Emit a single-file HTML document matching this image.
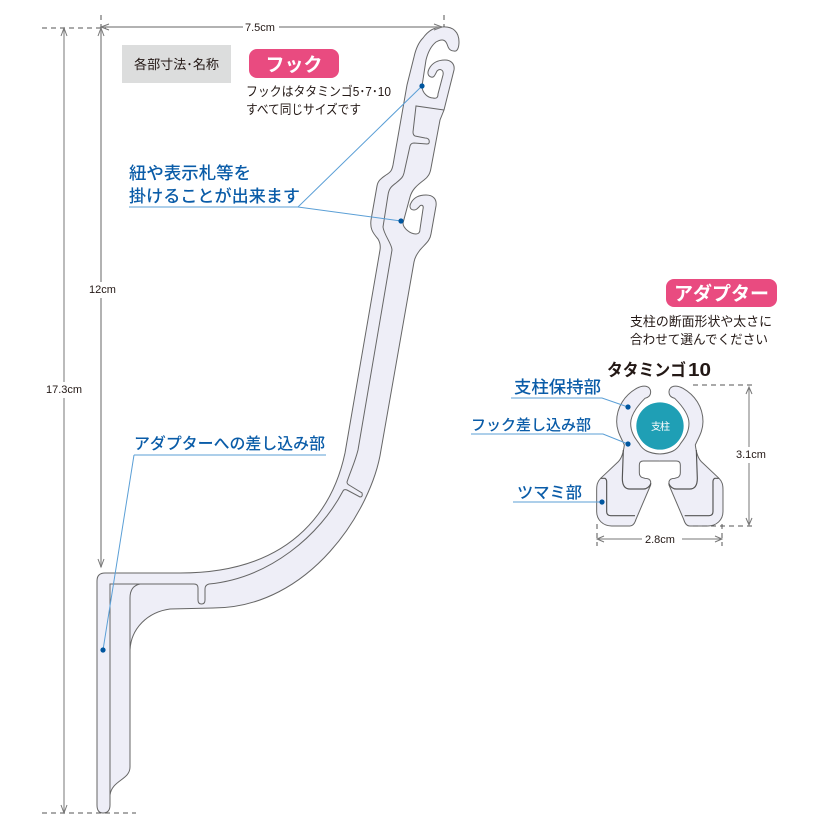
<!DOCTYPE html>
<html><head><meta charset="utf-8"><style>
html,body{margin:0;padding:0;background:#fff}
svg{display:block}
text{font-family:"Liberation Sans","Noto Sans CJK JP",sans-serif}
.b{fill:#0a5ca8;font-weight:500}
.k{fill:#231815}
.l{stroke:#5b9fd6;stroke-width:1;fill:none}
.d{fill:#00569f}
.g{stroke:#777;stroke-width:1;fill:none}
.g2{stroke:#999;stroke-width:1.5;fill:none}
.da{stroke:#555;stroke-width:1;fill:none;stroke-dasharray:5 4}
.o{stroke:#666;stroke-width:1;fill:none}
</style></head><body>
<svg width="830" height="830" viewBox="0 0 830 830" xmlns="http://www.w3.org/2000/svg">
<rect width="830" height="830" fill="#fff"/>

<!-- hanger body -->
<path d="M110 805 Q110 813 103 813 Q97 813 97 805 L97 581 Q97 573 105 573 L180 573 C300 573 335 500 345 453 L380 250 Q381 244 378 239 C372 232 370 228 371 220 L377 186 C378 180 382 178 386 175 C391 172 392 170 393 165 L407 85 L414 57 C416 48 419 42 423 38 C428 31 434 27 442 27 C453 26 459 32 459 42 C459 48 457 52 454 51 C449 51 448 47 447 44 C445 39 441 39 436 42 C431 46 428 52 426 60 L422 86 C422 93 428 98 433 98 C437 99 438 97 438 94 L443 75 C444 70 440 68 437 71 C435 75 434 78 431 77 C428 76 427 73 429 69 C432 63 438 60 445 60 C451 60 455 64 454 70 L444 110 L440 120 L431 168 C430 174 428 177 424 180 C416 186 412 190 410 197 L403 223 C403 228 410 234 416 234 C419 234 420 232 420 229 L423 209 C424 205 421 204 419 207 C417 209 416 210 414 210 C410 210 409 206 411 203 C414 197 420 195 426 195 C433 195 437 199 436 206 L431 234 C430 241 425 244 420 250 C417 254 415 257 414 262 L381 450 C372 510 310 608 213 608 L170 609 C148 612 131 628 130 650 L130 767 C130 780 112 780 110 795 Z" fill="#eeeef7" stroke="#666" stroke-width="1"/>
<path class="o" d="M110 795 L110 584 L194 584 Q198 584 198 588 L198 600 Q198 604 201.500 604 Q205 604 205 600 L205 589 Q205 585 209 584 C270 578 320 535 343 491 Q344 489 347 490 L360 497 Q363 497 362 493 L349 485 Q347 484 347 482 C351 470 355 462 358 450 L392 250 C392 244 384 235 383 227 L388 195 C389 188 392 186 396 183 C402 178 403 177 404 173 L410 146 Q411 143 414 143 L427 144 Q430 144 429 140 Q428 138 425 138 L415 136 Q413 135 413 132 L416 106 L444 110"/>
<path class="o" d="M130 650 L130 598 Q130 586 140 584 L194 584"/>

<!-- leaders -->
<path class="l" d="M129 207 H298 L422 86 M298 207 L401 221 M134 455 H326 M134 455 L103 650"/>
<circle class="d" cx="422" cy="86" r="2.6"/><circle class="d" cx="401" cy="221" r="2.6"/><circle class="d" cx="103" cy="650" r="2.6"/>

<!-- dims left -->
<path class="da" d="M42 28 H106 M42 813 H136 M101 15 V28 M444 15 V27"/>
<path class="g" d="M64 28 V813"/>
<path class="g2" d="M101 28 V567 M101 27 H442"/>
<path class="g" d="M61 36 L64 28 L67 36 M61 805 L64 813 L67 805 M98 36 L101 28 L104 36 M98 559 L101 567 L104 559 M109 24 L101 27 L109 30 M434 24 L442 27 L434 30"/>
<rect x="46" y="382" width="40" height="16" fill="#fff"/><text x="46" y="393" font-size="11" class="k">17.3cm</text>
<rect x="88" y="282" width="31" height="16" fill="#fff"/><text x="89" y="293" font-size="11" class="k">12cm</text>
<rect x="243" y="20" width="36" height="14" fill="#fff"/><text x="245" y="31" font-size="11" class="k">7.5cm</text>

<!-- header labels -->
<rect x="122" y="45" width="109" height="38" fill="#dcdddd"/>
<text x="134" y="69" font-size="13" class="k" textLength="85" lengthAdjust="spacingAndGlyphs">各部寸法･名称</text>
<rect x="249" y="49" width="90" height="29" rx="8" fill="#e94b80"/>
<text x="294" y="71" font-size="19" font-weight="700" fill="#fff" text-anchor="middle" textLength="57" lengthAdjust="spacingAndGlyphs">フック</text>
<text x="246" y="96" font-size="13" class="k" textLength="145" lengthAdjust="spacingAndGlyphs">フックはタタミンゴ5･7･10</text>
<text x="246" y="114" font-size="13" class="k" textLength="115" lengthAdjust="spacingAndGlyphs">すべて同じサイズです</text>
<text x="129" y="179" font-size="17" class="b" textLength="122" lengthAdjust="spacingAndGlyphs">紐や表示札等を</text>
<text x="129" y="202" font-size="17" class="b" textLength="171" lengthAdjust="spacingAndGlyphs">掛けることが出来ます</text>
<text x="134" y="449" font-size="16" class="b" textLength="191" lengthAdjust="spacingAndGlyphs">アダプターへの差し込み部</text>

<!-- adapter texts -->
<rect x="666" y="279" width="111" height="28" rx="8" fill="#e94b80"/>
<text x="721.5" y="300" font-size="19" font-weight="700" fill="#fff" text-anchor="middle" textLength="95" lengthAdjust="spacingAndGlyphs">アダプター</text>
<text x="630" y="326" font-size="13" class="k" textLength="142" lengthAdjust="spacingAndGlyphs">支柱の断面形状や太さに</text>
<text x="630" y="344" font-size="13" class="k" textLength="138" lengthAdjust="spacingAndGlyphs">合わせて選んでください</text>
<text x="607" y="376" font-size="17" font-weight="700" class="k" textLength="79" lengthAdjust="spacingAndGlyphs">タタミンゴ</text>
<text x="688" y="376" font-size="18" font-weight="700" class="k" textLength="23" lengthAdjust="spacingAndGlyphs">10</text>
<text x="514" y="393" font-size="17" class="b" textLength="87" lengthAdjust="spacingAndGlyphs">支柱保持部</text>
<text x="471" y="430" font-size="15" class="b" textLength="120" lengthAdjust="spacingAndGlyphs">フック差し込み部</text>
<text x="517" y="498" font-size="16" class="b" textLength="65" lengthAdjust="spacingAndGlyphs">ツマミ部</text>

<!-- adapter shape -->
<g transform="translate(580 370) scale(.3333)">
<defs>
<g id="hf">
<path fill="#eeeef7" d="M212 65 C210 46 190 44 170 55 C135 75 110 110 110 155 C110 185 125 205 133 225 C130 250 125 265 115 275 L62 325 C52 335 50 345 50 360 L50 425 C50 450 70 468 95 468 L150 468 C160 468 165 458 168 448 L212 345 L212 335 Q210 325 195 325 L185 322 Q178 318 178 308 L178 285 Q178 273 190 273 L240 273 L240 252 C205 250 190 240 180 225 C175 215 152 195 152 160 C152 135 170 110 195 85 C205 82 212 78 212 65 Z"/>
<path fill="none" stroke="#666" stroke-width="3" d="M212 65 C210 46 190 44 170 55 C135 75 110 110 110 155 C110 185 125 205 133 225 C130 250 125 265 115 275 L62 325 C52 335 50 345 50 360 L50 425 C50 450 70 468 95 468 L150 468 C160 468 165 458 168 448 L212 345 L212 335 Q210 325 195 325 L185 322 Q178 318 178 308 L178 285 Q178 273 190 273 L240 273 M240 252 C205 250 190 240 180 225 C175 215 152 195 152 160 C152 135 170 110 195 85 C205 82 212 78 212 65"/>
<path fill="none" stroke="#555" stroke-width="3.500" d="M130 240 L127 325 Q127 357 150 357 L190 357 Q205 357 213 340 M62 325 L75 325 Q80 328 80 335 L80 425 Q80 437 92 437 L165 437"/>
</g>
</defs>
<use href="#hf"/>
<use href="#hf" transform="translate(479 0) scale(-1 1)"/>
<circle cx="240" cy="168" r="71" fill="#1f9fb5"/>
</g>
<text x="651" y="430" font-size="10" fill="#fff" textLength="19">支柱</text>

<!-- adapter leaders -->
<path class="l" d="M511 398 H602 L628 407 M471 434 H603 L628 444 M513 502 H602"/>
<circle class="d" cx="628" cy="407" r="2.6"/><circle class="d" cx="628" cy="444" r="2.6"/><circle class="d" cx="602" cy="502" r="2.6"/>

<!-- adapter dims -->
<path class="da" d="M693 385 H755 M693 526 H755 M597 524 V546 M722 524 V546"/>
<path class="g" d="M749 387 V525 M597 539 H722 M746 394 L749 387 L752 394 M746 518 L749 525 L752 518 M604 536 L597 539 L604 542 M715 536 L722 539 L715 542"/>
<rect x="734" y="447" width="36" height="16" fill="#fff"/><text x="736" y="458" font-size="11" class="k">3.1cm</text>
<rect x="642" y="532" width="40" height="14" fill="#fff"/><text x="645" y="543" font-size="11" class="k">2.8cm</text>
</svg>
</body></html>
